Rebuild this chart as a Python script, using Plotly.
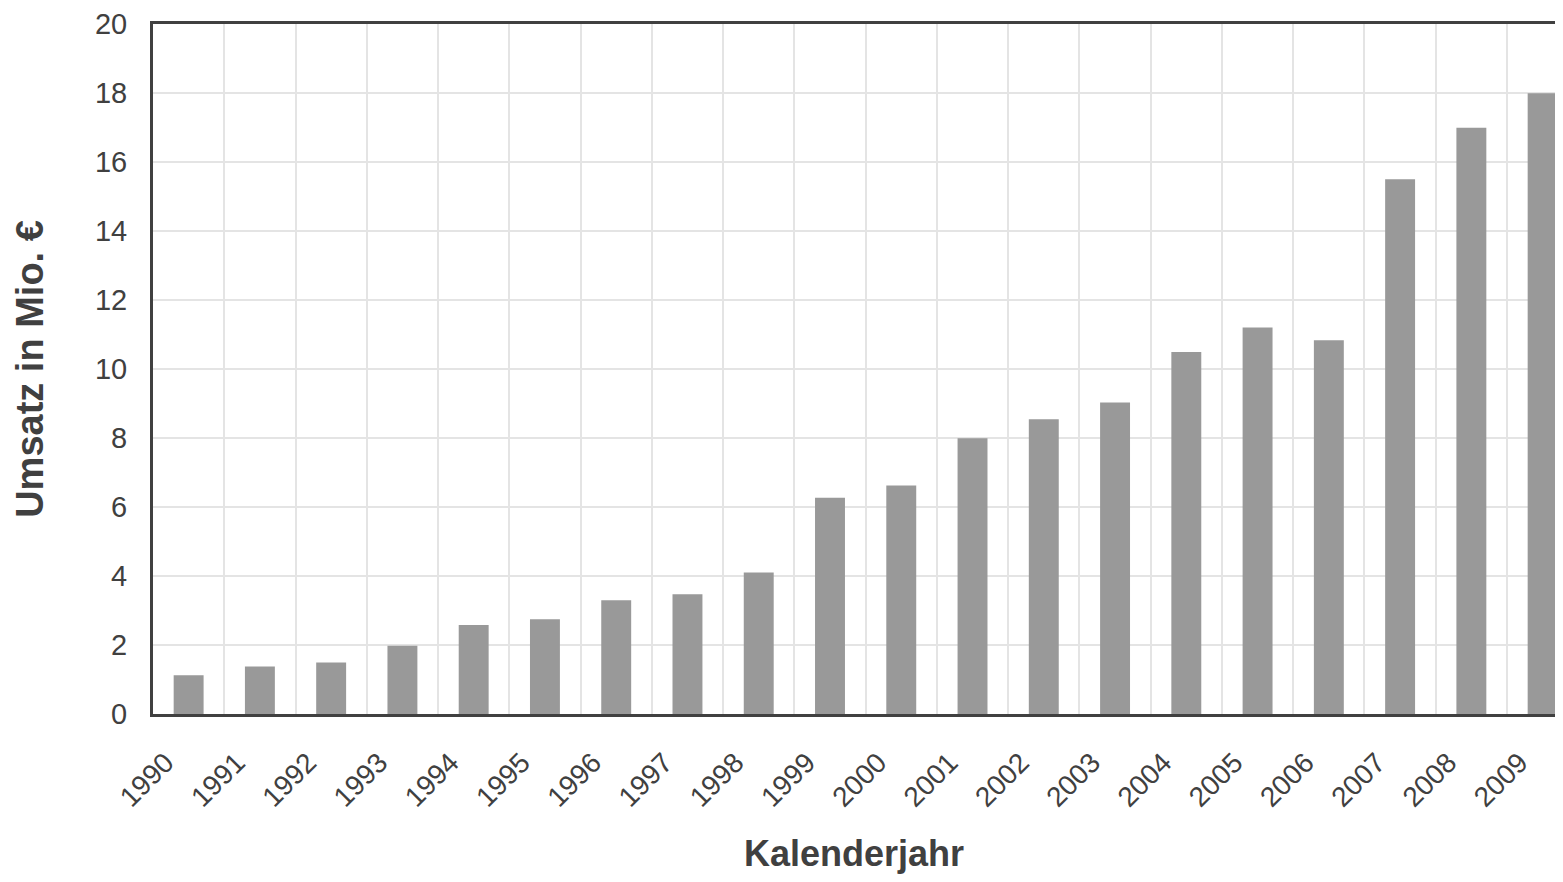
import plotly.graph_objects as go

years = [str(y) for y in range(1990, 2010)]
umsatz = [1.12, 1.38, 1.49, 1.98, 2.58, 2.75, 3.30, 3.47, 4.10, 6.27,
          6.62, 7.99, 8.54, 9.03, 10.49, 11.20, 10.83, 15.5, 16.99, 17.99]

text_col = "#404040"
fig = go.Figure(go.Bar(x=years, y=umsatz, marker=dict(color="#999999", line=dict(width=0)),
                       width=0.42))

cat_w = (1507 - 153) / 19
right_val = -0.5 + (1555 - 153) / cat_w

fig.update_layout(
    width=1547, height=866,
    margin=dict(l=145, r=0, t=12, b=156),
    paper_bgcolor="white", plot_bgcolor="white",
    font=dict(family="Liberation Sans, Arial, sans-serif", color=text_col, size=28),
    showlegend=False,
    bargap=0.58,
)
fig.update_xaxes(
    type="category", range=[-0.5, right_val], tickson="boundaries",
    showgrid=True, gridcolor="#e4e4e4", gridwidth=2,
    showline=True, linecolor=text_col, linewidth=3, mirror=True,
    ticks="", tickangle=-45, tickfont=dict(size=28),
    ticklabelstandoff=18, ticklabelshift=-23,
    title=dict(text="<b>Kalenderjahr</b>", font=dict(size=36), standoff=36),
)
fig.update_yaxes(
    range=[0, 20], dtick=2, showgrid=True, gridcolor="#e4e4e4", gridwidth=2,
    showline=True, linecolor=text_col, linewidth=3, mirror=False, zeroline=False,
    ticks="", tickfont=dict(size=29), ticklabeloverflow="allow",
    ticklabelstandoff=17,
    title=dict(text="<b>Umsatz in Mio. €</b>", font=dict(size=38), standoff=40),
)
fig.write_html("out.html")
